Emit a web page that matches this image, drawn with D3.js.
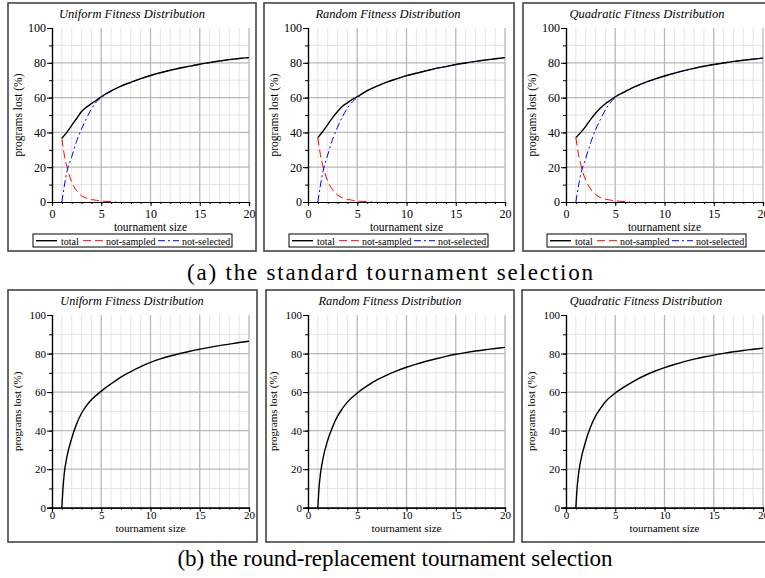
<!DOCTYPE html>
<html>
<head>
<meta charset="utf-8">
<script src="https://cdn.jsdelivr.net/npm/d3@7"></script>
<style>
  body { margin: 0; background: #fff; }
</style>
</head>
<body>
<div id="chart"></div>
<script>
var stdSizes = [1, 1.5, 2, 2.5, 3, 3.5, 4, 4.5, 5, 6, 7, 8, 9, 10, 11, 12, 13, 14, 15, 16, 17, 18, 19, 20];
var sampledSizes = [1, 1.25, 1.5, 2, 2.5, 3, 3.5, 4, 4.5, 5, 5.5, 6, 6.5];
var rrSizes = [1, 1.1, 1.25, 1.5, 2, 2.5, 3, 3.5, 4, 5, 6, 7, 8, 9, 10, 11, 12, 13, 14, 15, 16, 17, 18, 19, 20];

var distributions = ["Uniform", "Random", "Quadratic"];

// (a) standard tournament selection
var totalUniform   = [36.6, 40, 44, 48, 52, 54.5, 56.5, 58.5, 60.5, 63.8, 66.6, 68.8, 70.9, 72.7, 74.3, 75.7, 77, 78.1, 79.2, 80.1, 81, 81.8, 82.5, 83];
var totalRandom    = [37, 40.5, 44.5, 48.5, 52, 55, 57, 59, 60.5, 64, 66.6, 68.9, 70.8, 72.6, 74, 75.4, 76.8, 77.8, 79, 79.9, 80.8, 81.6, 82.3, 83];
var totalQuadratic = [37, 40, 43.5, 47.5, 51, 54, 56.5, 58.5, 60.5, 63.5, 66.3, 68.6, 70.6, 72.4, 74, 75.5, 76.8, 78, 79, 79.9, 80.8, 81.5, 82.1, 82.7];

var notSelectedUniform   = [0, 17, 26, 35, 42, 48, 53.5, 57.5, 60, 63.6, 66.5, 68.7, 70.8, 72.7, 74.3, 75.7, 77, 78.1, 79.2, 80.1, 81, 81.8, 82.5, 83];
var notSelectedRandom    = [0, 17, 27, 36, 43, 49, 54, 57.5, 60, 63.8, 66.5, 68.8, 70.7, 72.6, 74, 75.4, 76.8, 77.8, 79, 79.9, 80.8, 81.6, 82.3, 83];
var notSelectedQuadratic = [0, 16, 25, 34, 41.5, 47.5, 53, 57, 60, 63.3, 66.2, 68.5, 70.5, 72.4, 74, 75.5, 76.8, 78, 79, 79.9, 80.8, 81.5, 82.1, 82.7];

var notSampledUniform   = [36.5, 27, 20.5, 11.5, 6.5, 3.6, 2.2, 1.4, 1, 0.6, 0.3, 0.2, 0.1];
var notSampledRandom    = [37, 27.5, 21, 12, 7, 4, 2.4, 1.5, 1, 0.6, 0.3, 0.2, 0.1];
var notSampledQuadratic = [37, 28, 21.5, 12.5, 7.5, 4.2, 2.6, 1.6, 1.1, 0.7, 0.4, 0.2, 0.1];

// (b) round-replacement tournament selection
var rrUniform   = [0, 9, 18, 26, 36, 43.5, 49, 53, 56, 60.5, 64.3, 67.8, 70.6, 73.2, 75.4, 77.2, 78.7, 80, 81.2, 82.2, 83.2, 84.1, 84.9, 85.7, 86.4];
var rrRandom    = [0, 9, 17, 25, 35, 42, 47.5, 51.5, 54.8, 59.5, 63.2, 66.3, 68.8, 71, 72.9, 74.5, 76, 77.3, 78.5, 79.6, 80.5, 81.3, 82, 82.6, 83.2];
var rrQuadratic = [0, 8.5, 16.5, 24.5, 34.5, 42, 47.5, 51.5, 55, 59.5, 63, 66, 68.6, 70.8, 72.7, 74.3, 75.8, 77.1, 78.2, 79.2, 80.1, 80.9, 81.6, 82.2, 82.8];

var xTicks = [0, 5, 10, 15, 20];
var yTicks = [0, 20, 40, 60, 80, 100];
var legendLabels = ["total", "not-sampled", "not-selected"];
var captions = ["(a) the standard tournament selection", "(b) the round-replacement tournament selection"];

var SERIF = "'Liberation Serif'";

var W = 765, H = 578;
var svg = d3.select("#chart").append("svg")
    .attr("width", W)
    .attr("height", H);

var seriesStyle = {
    "total":        {color: "#000", dash: null, width: 1.4},
    "not-sampled":  {color: "#f00", dash: "8,4", width: 1},
    "not-selected": {color: "#00f", dash: "7,3,2,3", width: 1}
};

function pairs(xs, ys) {
    return xs.map(function (x, i) { return [x, ys[i]]; });
}

// one framed sub-plot
function drawPanel(p) {
    var g = svg.append("g");

    g.append("rect")
        .attr("x", p.frame[0]).attr("y", p.frame[1])
        .attr("width", p.frame[2]).attr("height", p.frame[3])
        .attr("fill", "#fff")
        .attr("stroke", "#444")
        .attr("stroke-width", 1.6);

    var x = d3.scaleLinear().domain([0, 20]).range([p.x0, p.x0 + 197]);
    var y = d3.scaleLinear().domain([0, 100]).range([p.yBottom, p.yTop]);

    // minor grid
    g.selectAll(".vminor").data(d3.range(1, 21).filter(function (d) { return d % 5; }))
        .enter().append("line")
        .attr("x1", function (d) { return x(d); }).attr("x2", function (d) { return x(d); })
        .attr("y1", y(0)).attr("y2", y(100))
        .attr("stroke", "#e4e4e4").attr("stroke-width", 1);
    g.selectAll(".hminor").data([10, 30, 50, 70, 90])
        .enter().append("line")
        .attr("x1", x(0)).attr("x2", x(20))
        .attr("y1", function (d) { return y(d); }).attr("y2", function (d) { return y(d); })
        .attr("stroke", "#e4e4e4").attr("stroke-width", 1);
    // major grid
    g.selectAll(".vmajor").data([5, 10, 15, 20])
        .enter().append("line")
        .attr("x1", function (d) { return x(d); }).attr("x2", function (d) { return x(d); })
        .attr("y1", y(0)).attr("y2", y(100))
        .attr("stroke", "#b8b8b8").attr("stroke-width", 1.3);
    g.selectAll(".hmajor").data([20, 40, 60, 80])
        .enter().append("line")
        .attr("x1", x(0)).attr("x2", x(20))
        .attr("y1", function (d) { return y(d); }).attr("y2", function (d) { return y(d); })
        .attr("stroke", "#b8b8b8").attr("stroke-width", 1.3);

    // axes
    var xMinor = d3.axisBottom(x).tickValues(d3.range(0, 21)).tickSize(2).tickFormat("");
    var xAxis = d3.axisBottom(x).tickValues(xTicks).tickSize(4).tickPadding(p.tickPad);
    var yMinor = d3.axisLeft(y).tickValues(d3.range(0, 101, 10)).tickSize(3).tickFormat("");
    var yAxis = d3.axisLeft(y).tickValues(yTicks).tickSize(5).tickPadding(1);

    [xMinor, xAxis].forEach(function (ax) {
        g.append("g").attr("transform", "translate(0," + y(0) + ")").call(ax);
    });
    [yMinor, yAxis].forEach(function (ax) {
        g.append("g").attr("transform", "translate(" + x(0) + ",0)").call(ax);
    });
    g.selectAll(".domain").attr("stroke", "#000").attr("stroke-width", 1.2);
    g.selectAll(".tick line").attr("stroke", "#000");
    g.selectAll(".tick text")
        .attr("font-family", SERIF)
        .attr("font-size", p.tickFont);

    // labels
    g.append("text")
        .attr("x", p.frame[0] + 124).attr("y", p.titleY)
        .attr("text-anchor", "middle")
        .attr("font-family", SERIF)
        .attr("font-style", "italic")
        .attr("font-size", p.titleFont)
        .text(p.title);
    g.append("text")
        .attr("x", (x(0) + x(20)) / 2).attr("y", p.xLabelY)
        .attr("text-anchor", "middle")
        .attr("font-family", SERIF)
        .attr("font-size", p.labelFont)
        .text("tournament size");
    g.append("text")
        .attr("transform", "translate(" + (p.x0 - p.yLabelOff) + "," + ((y(0) + y(100)) / 2) + ") rotate(-90)")
        .attr("text-anchor", "middle")
        .attr("font-family", SERIF)
        .attr("font-size", p.labelFont)
        .text("programs lost (%)");

    // curves
    var line = d3.line()
        .x(function (d) { return x(d[0]); })
        .y(function (d) { return y(d[1]); })
        .curve(d3.curveMonotoneX);

    p.series.forEach(function (s) {
        var st = seriesStyle[s.name];
        g.append("path")
            .datum(s.points)
            .attr("d", line)
            .attr("fill", "none")
            .attr("stroke", st.color)
            .attr("stroke-width", st.width)
            .attr("stroke-dasharray", st.dash);
    });

    // legend (top row only)
    if (p.legend) {
        var lx = p.x0 - 19, ly = 234;
        var lg = g.append("g").attr("transform", "translate(" + lx + "," + ly + ")");
        lg.append("rect")
            .attr("width", 199).attr("height", 13)
            .attr("fill", "#fff").attr("stroke", "#000").attr("stroke-width", 1);
        var offsets = [[3, 28], [50, 73], [125, 149]];
        legendLabels.forEach(function (name, i) {
            var st = seriesStyle[name];
            lg.append("line")
                .attr("x1", offsets[i][0]).attr("x2", offsets[i][0] + 21)
                .attr("y1", 6.7).attr("y2", 6.7)
                .attr("stroke", st.color).attr("stroke-width", st.width)
                .attr("stroke-dasharray", st.dash);
            lg.append("text")
                .attr("x", offsets[i][1]).attr("y", 10.5)
                .attr("font-family", SERIF)
                .attr("font-size", 10)
                .text(name);
        });
    }
}

var topFrames = [[8, 3, 248, 248], [264, 3, 250, 248], [523, 3, 260, 248]];
var botFrames = [[8, 290, 249, 252], [266, 290, 248, 252], [522, 290, 260, 252]];
var plotX0 = [52, 308, 566];

var stdTotal = [totalUniform, totalRandom, totalQuadratic];
var stdNotSampled = [notSampledUniform, notSampledRandom, notSampledQuadratic];
var stdNotSelected = [notSelectedUniform, notSelectedRandom, notSelectedQuadratic];
var rrTotal = [rrUniform, rrRandom, rrQuadratic];

distributions.forEach(function (dist, i) {
    drawPanel({
        frame: topFrames[i], x0: plotX0[i], yBottom: 202, yTop: 28,
        title: dist + " Fitness Distribution",
        titleY: 18, xLabelY: 231, tickPad: 3, yLabelOff: 30,
        tickFont: 12, labelFont: 11.5, titleFont: 12.5,
        legend: true,
        series: [
            {name: "not-sampled", points: pairs(sampledSizes, stdNotSampled[i])},
            {name: "not-selected", points: pairs(stdSizes, stdNotSelected[i])},
            {name: "total", points: pairs(stdSizes, stdTotal[i])}
        ]
    });
    drawPanel({
        frame: botFrames[i], x0: plotX0[i], yBottom: 507.7, yTop: 315,
        title: dist + " Fitness Distribution",
        titleY: 305, xLabelY: 532, tickPad: 0, yLabelOff: 31,
        tickFont: 11, labelFont: 11, titleFont: 12.3,
        legend: false,
        series: [
            {name: "total", points: pairs(rrSizes, rrTotal[i])}
        ]
    });
});

svg.append("text")
    .attr("x", 390).attr("y", 280)
    .attr("text-anchor", "middle")
    .attr("font-family", SERIF)
    .attr("textLength", 406).attr("lengthAdjust", "spacing")
    .attr("font-size", 23)
    .text(captions[0]);
svg.append("text")
    .attr("x", 395).attr("y", 566)
    .attr("text-anchor", "middle")
    .attr("font-family", SERIF)
    .attr("textLength", 435).attr("lengthAdjust", "spacing")
    .attr("font-size", 23)
    .text(captions[1]);
</script>
</body>
</html>
